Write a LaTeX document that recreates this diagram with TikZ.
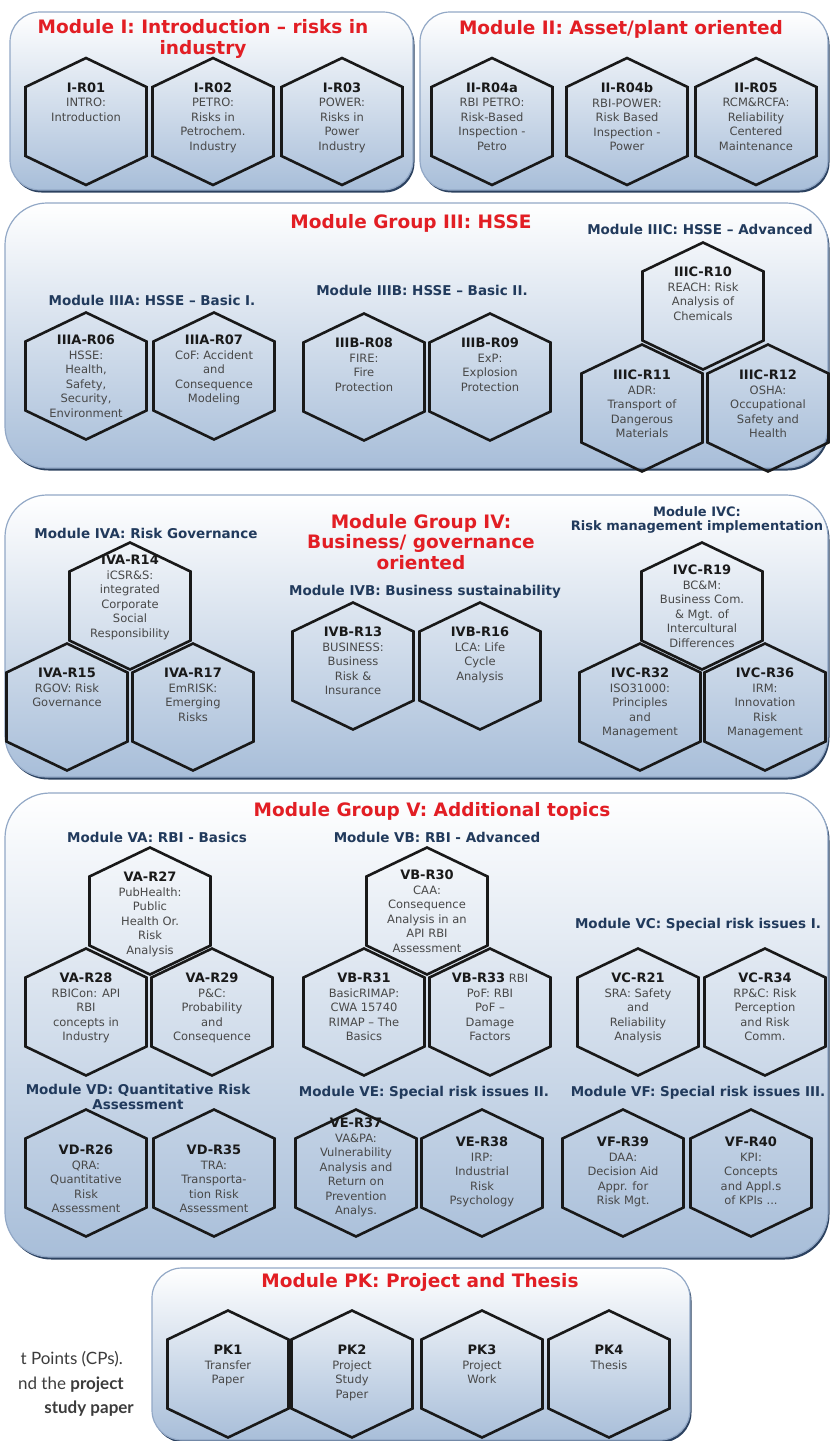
\documentclass[tikz,border=0pt]{standalone}
\usepackage{fontspec}
\setmainfont{DejaVu Sans}
\newfontfamily\notefont{Lato}

\definecolor{titlered}{RGB}{226,30,36}
\definecolor{subnavy}{RGB}{33,58,92}
\definecolor{boxedge}{RGB}{146,168,198}
\definecolor{boxshadow}{RGB}{44,66,96}
\definecolor{boxlow}{RGB}{168,190,217}
\definecolor{hexid}{RGB}{25,25,25}
\definecolor{hexdesc}{RGB}{72,72,72}
\definecolor{notegray}{RGB}{60,60,60}

\tikzset{
  modbox/.style={draw=boxedge, line width=1.2pt, top color=white, bottom color=boxlow, rounded corners=#1},
  modshade/.style={fill=boxshadow, rounded corners=#1},
  hexline/.style={draw=black!90, line width=2.6pt, line join=miter},
  hextext/.style={align=center, inner sep=0pt, anchor=north, text=hexdesc,
    font=\fontsize{11.5}{14.5}\selectfont},
  modtitle/.style={align=center, inner sep=0pt, text=titlered,
    font=\fontsize{18.5}{20.5}\selectfont\bfseries},
  subtitle/.style={align=center, inner sep=0pt, text=subnavy,
    font=\fontsize{13.5}{15}\selectfont\bfseries},
  notetext/.style={inner sep=0pt, anchor=base east, text=notegray,
    font=\notefont\fontsize{17}{20}\selectfont},
}

% module panel: x1, y1, x2, y2, corner radius
\newcommand\modulebox[5]{%
  \fill[modshade=#5] ([shift={(1.5,2.5)}]#1,#2) rectangle ([shift={(1.5,2.5)}]#3,#4);
  \draw[modbox=#5] (#1,#2) rectangle (#3,#4);
}

% bold course code at the head of a cell
\newcommand\hid[1]{{\fontsize{13}{14.5}\selectfont\bfseries\color{hexid}#1}}

% hexagonal course cell: name, x, y, offset of first text line, text
\newcommand\hexcell[5]{%
  \draw[hexline] ([shift={(#2,#3)}]0,-63.5) -- ([shift={(#2,#3)}]60.5,-34.5)
    -- ([shift={(#2,#3)}]60.5,34.5) -- ([shift={(#2,#3)}]0,63.5)
    -- ([shift={(#2,#3)}]-60.5,34.5) -- ([shift={(#2,#3)}]-60.5,-34.5) -- cycle;
  \node[hextext] (#1) at ([shift={(#2,#3)}]0,{#4-5}) {#5};
}

\begin{document}
\begin{tikzpicture}[x=1pt, y=-1pt]
\useasboundingbox (0,0) rectangle (830,1441);

% ---------- panels ----------
\modulebox{10}{12}{413}{190}{30}
\modulebox{420}{12}{828}{190}{30}
\modulebox{5}{203}{828}{468}{42}
\modulebox{5}{495}{828}{777}{42}
\modulebox{5}{793}{828}{1257}{45}
\modulebox{152}{1268}{690}{1440}{30}

% ---------- Module I and II ----------
\node[modtitle] (tI) at (203,39) {Module I: Introduction -- risks in\\industry};
\node[modtitle] (tII) at (621,29) {Module II: Asset/plant oriented};

\hexcell{IR01}{86}{121.5}{-34}{\hid{I-R01}\\INTRO:\\Introduction}
\hexcell{IR02}{213}{121.5}{-34}{\hid{I-R02}\\PETRO:\\Risks in\\Petrochem.\\Industry}
\hexcell{IR03}{342}{121.5}{-34}{\hid{I-R03}\\POWER:\\Risks in\\Power\\Industry}
\hexcell{IIR04a}{492}{121.5}{-34}{\hid{II-R04a}\\RBI PETRO:\\Risk-Based\\Inspection -\\Petro}
\hexcell{IIR04b}{627}{121.5}{-34}{\hid{II-R04b}\\RBI-POWER:\\Risk Based\\Inspection -\\Power}
\hexcell{IIR05}{756}{121.5}{-34}{\hid{II-R05}\\RCM\&RCFA:\\Reliability\\Centered\\Maintenance}

% ---------- Module Group III ----------
\node[modtitle] (tIII) at (411,223) {Module Group III: HSSE};
\node[subtitle] (tIIIA) at (152,300) {Module IIIA: HSSE -- Basic I.};
\node[subtitle] (tIIIB) at (422,290) {Module IIIB: HSSE -- Basic II.};
\node[subtitle] (tIIIC) at (700,229) {Module IIIC: HSSE -- Advanced};

\hexcell{IIIAR06}{86}{376}{-36}{\hid{IIIA-R06}\\HSSE:\\Health,\\Safety,\\Security,\\Environment}
\hexcell{IIIAR07}{214}{376}{-36}{\hid{IIIA-R07}\\CoF: Accident\\and\\Consequence\\Modeling}
\hexcell{IIIBR08}{364}{377}{-34}{\hid{IIIB-R08}\\FIRE:\\Fire\\Protection}
\hexcell{IIIBR09}{490}{377}{-34}{\hid{IIIB-R09}\\ExP:\\Explosion\\Protection}
\hexcell{IIICR10}{703}{306}{-34}{\hid{IIIC-R10}\\REACH: Risk\\Analysis of\\Chemicals}
\hexcell{IIICR11}{642}{408}{-33}{\hid{IIIC-R11}\\ADR:\\Transport of\\Dangerous\\Materials}
\hexcell{IIICR12}{768}{408}{-33}{\hid{IIIC-R12}\\OSHA:\\Occupational\\Safety and\\Health}

% ---------- Module Group IV ----------
\node[modtitle] (tIV) at (421,542) {Module Group IV:\\Business/ governance\\oriented};
\node[subtitle] (tIVA) at (146,533) {Module IVA: Risk Governance};
\node[subtitle] (tIVB) at (425,592) {Module IVB: Business sustainability};
\node[subtitle, font=\fontsize{13}{14.5}\selectfont\bfseries] (tIVC) at (697,520) {Module IVC:\\Risk management implementation};

\hexcell{IVAR14}{130}{606}{-46}{\hid{IVA-R14}\\iCSR\&S:\\integrated\\Corporate\\Social\\Responsibility}
\hexcell{IVAR15}{67}{707}{-34}{\hid{IVA-R15}\\RGOV: Risk\\Governance}
\hexcell{IVAR17}{193}{707}{-34}{\hid{IVA-R17}\\EmRISK:\\Emerging\\Risks}
\hexcell{IVBR13}{353}{666}{-34}{\hid{IVB-R13}\\BUSINESS:\\Business\\Risk \&\\Insurance}
\hexcell{IVBR16}{480}{666}{-34}{\hid{IVB-R16}\\LCA: Life\\Cycle\\Analysis}
\hexcell{IVCR19}{702}{606}{-36}{\hid{IVC-R19}\\BC\&M:\\Business Com.\\\& Mgt. of\\Intercultural\\Differences}
\hexcell{IVCR32}{640}{707}{-34}{\hid{IVC-R32}\\ISO31000:\\Principles\\and\\Management}
\hexcell{IVCR36}{765}{707}{-34}{\hid{IVC-R36}\\IRM:\\Innovation\\Risk\\Management}

% ---------- Module Group V ----------
\node[modtitle] (tV) at (432,811) {Module Group V: Additional topics};
\node[subtitle] (tVA) at (157,837) {Module VA: RBI - Basics};
\node[subtitle] (tVB) at (437,837) {Module VB: RBI - Advanced};
\node[subtitle] (tVC) at (698,925) {Module VC: Special risk issues I.};
\node[subtitle] (tVD) at (138,1097) {Module VD: Quantitative Risk\\Assessment};
\node[subtitle] (tVE) at (424,1093) {Module VE: Special risk issues II.};
\node[subtitle] (tVF) at (698,1093) {Module VF: Special risk issues III.};

\hexcell{VAR27}{150}{911}{-34}{\hid{VA-R27}\\PubHealth:\\Public\\Health Or.\\Risk\\Analysis}
\hexcell{VAR28}{86}{1012}{-34}{\hid{VA-R28}\\RBICon: API\\RBI\\concepts in\\Industry}
\hexcell{VAR29}{212}{1012}{-34}{\hid{VA-R29}\\P\&C:\\Probability\\and\\Consequence}
\hexcell{VBR30}{427}{911}{-36}{\hid{VB-R30}\\CAA:\\Consequence\\Analysis in an\\API RBI\\Assessment}
\hexcell{VBR31}{364}{1012}{-34}{\hid{VB-R31}\\BasicRIMAP:\\CWA 15740\\RIMAP -- The\\Basics}
\hexcell{VBR33}{490}{1012}{-34}{\hid{VB-R33} RBI\\PoF: RBI\\PoF --\\Damage\\Factors}
\hexcell{VCR21}{638}{1012}{-34}{\hid{VC-R21}\\SRA: Safety\\and\\Reliability\\Analysis}
\hexcell{VCR34}{765}{1012}{-34}{\hid{VC-R34}\\RP\&C: Risk\\Perception\\and Risk\\Comm.}
\hexcell{VDR26}{86}{1173}{-23}{\hid{VD-R26}\\QRA:\\Quantitative\\Risk\\Assessment}
\hexcell{VDR35}{214}{1173}{-23}{\hid{VD-R35}\\TRA:\\Transporta-\\tion Risk\\Assessment}
\hexcell{VER37}{356}{1173}{-50}{\hid{VE-R37}\\VA\&PA:\\Vulnerability\\Analysis and\\Return on\\Prevention\\Analys.}
\hexcell{VER38}{482}{1173}{-31}{\hid{VE-R38}\\IRP:\\Industrial\\Risk\\Psychology}
\hexcell{VFR39}{623}{1173}{-31}{\hid{VF-R39}\\DAA:\\Decision Aid\\Appr. for\\Risk Mgt.}
\hexcell{VFR40}{751}{1173}{-31}{\hid{VF-R40}\\KPI:\\Concepts\\and Appl.s\\of KPIs ...}

% ---------- Module PK ----------
\node[modtitle] (tPK) at (420,1282) {Module PK: Project and Thesis};
\hexcell{PK1}{228}{1374}{-24}{\hid{PK1}\\Transfer\\Paper}
\hexcell{PK2}{352}{1374}{-24}{\hid{PK2}\\Project\\Study\\Paper}
\hexcell{PK3}{482}{1374}{-24}{\hid{PK3}\\Project\\Work}
\hexcell{PK4}{609}{1374}{-24}{\hid{PK4}\\Thesis}

% ---------- running text at the left margin ----------
\node[notetext] (noteA) at (123,1364) {t Points (CPs).};
\node[notetext] (noteB) at (124,1389) {nd the \textbf{project}};
\node[notetext] (noteC) at (134,1413) {\textbf{study paper}};
\end{tikzpicture}
\end{document}
